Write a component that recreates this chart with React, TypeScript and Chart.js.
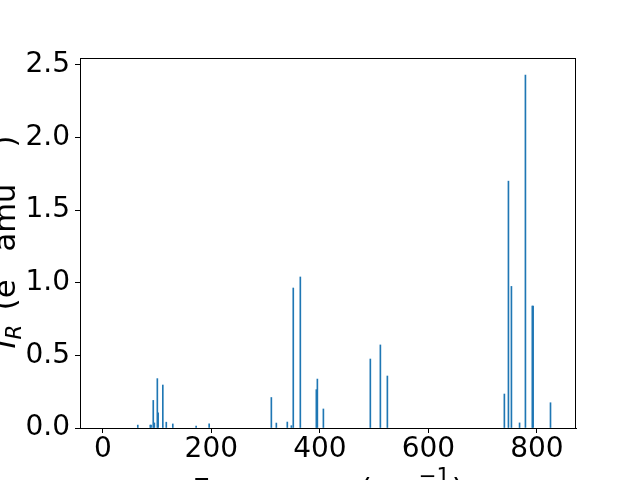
import React, { useEffect, useRef } from "react";
import { Chart, registerables } from "chart.js";

Chart.register(...registerables);

// Frequencies (cm^-1) and IR intensities
const frequencies = [
  64.5, 87.5, 89, 93, 95, 100.5, 102, 110.6, 117, 129, 172, 196,
  310.6, 319.8, 340, 347.5, 351, 364, 393.5, 395.4, 406.5,
  493, 511.5, 524.4,
  740, 747.5, 753, 768, 778.8, 791.5, 793, 825,
];
const intensities = [
  0.02, 0.02, 0.02, 0.19, 0.035, 0.34, 0.105, 0.296, 0.04, 0.028, 0.014, 0.028,
  0.21, 0.034, 0.041, 0.016, 0.964, 1.04, 0.264, 0.337, 0.131,
  0.475, 0.572, 0.358,
  0.234, 1.70, 0.975, 0.035, 2.43, 0.84, 0.84, 0.174,
];
const xTickValues = [0, 200, 400, 600, 800];
const yTickValues = [0, 0.5, 1.0, 1.5, 2.0, 2.5];

const FONT = "DejaVu Sans";

type Piece = { text: string; italic?: boolean; scale?: number; dy?: number; gap?: number };

function drawRich(ctx: CanvasRenderingContext2D, pieces: Piece[], size: number) {
  const fontFor = (p: Piece) =>
    `${p.italic ? "italic " : ""}${Math.round(size * (p.scale ?? 1) * 10) / 10}px "${FONT}"`;
  let total = 0;
  const widths = pieces.map((p) => {
    ctx.font = fontFor(p);
    const w = ctx.measureText(p.text).width + (p.gap ?? 0) * size;
    total += w;
    return w;
  });
  let x = -total / 2;
  pieces.forEach((p, i) => {
    ctx.font = fontFor(p);
    ctx.fillText(p.text, x, (p.dy ?? 0) * size);
    x += widths[i];
  });
}

const titlesPlugin = {
  id: "axisTitles",
  afterDraw(chart: any) {
    const ctx: CanvasRenderingContext2D = chart.ctx;
    const ca = chart.chartArea;
    const size = 30.6;
    ctx.save();
    ctx.fillStyle = "#000";
    ctx.textBaseline = "alphabetic";
    ctx.textAlign = "left";
    // x title
    ctx.save();
    ctx.translate((ca.left + ca.right) / 2, ca.bottom + 72);
    drawRich(
      ctx,
      [
        { text: "Frequency (cm" },
        { text: "\u22121", scale: 0.7, dy: -0.54, gap: 0.05 },
        { text: ")" },
      ],
      size
    );
    ctx.restore();
    // y title
    ctx.save();
    ctx.translate(ca.left - 65, (ca.top + ca.bottom) / 2 - 1);
    ctx.rotate(-Math.PI / 2);
    drawRich(
      ctx,
      [
        { text: "I", italic: true },
        { text: "R", italic: true, scale: 0.7, dy: 0.2, gap: 0.15 },
        { text: " (e" },
        { text: "2", scale: 0.7, dy: -0.54, gap: 0.15 },
        { text: " amu" },
        { text: "\u22121", scale: 0.7, dy: -0.54, gap: 0.15 },
        { text: ")" },
      ],
      size
    );
    ctx.restore();
    ctx.restore();
  },
};

export default function App() {
  const canvasRef = useRef<HTMLCanvasElement | null>(null);

  useEffect(() => {
    document.body.style.margin = "0";
    const canvas = canvasRef.current;
    if (!canvas) return;
    const data = frequencies.map((f, i) => ({ x: f, y: intensities[i] }));
    const chart = new Chart(canvas, {
      type: "bar",
      data: {
        datasets: [
          {
            data: data as any,
            backgroundColor: "#1f77b4",
            borderWidth: 0,
            barThickness: 1,
          } as any,
        ],
      },
      options: {
        animation: false,
        responsive: false,
        maintainAspectRatio: false,
        layout: { padding: { top: 58, right: 64, left: 0, bottom: 0 } },
        plugins: {
          legend: { display: false },
          tooltip: { enabled: false },
          title: { display: false },
        },
        scales: {
          x: {
            type: "linear",
            min: -42,
            max: 872,
            offset: false,
            afterBuildTicks: (s: any) => {
              s.ticks = xTickValues.map((v) => ({ value: v }));
            },
            afterFit: (s: any) => {
              s.height = 52;
            },
            grid: {
              offset: false,
              drawOnChartArea: false,
              drawTicks: true,
              tickLength: 5,
              color: "#000",
              lineWidth: 1,
            },
            border: { color: "#000", width: 1 },
            ticks: {
              color: "#000",
              font: { family: FONT, size: 28 },
              padding: 0,
              maxRotation: 0,
              autoSkip: false,
              callback: (v: any) => String(v),
            },
          },
          y: {
            type: "linear",
            min: 0,
            max: 2.548,
            afterBuildTicks: (s: any) => {
              s.ticks = yTickValues.map((v) => ({ value: v }));
            },
            afterFit: (s: any) => {
              s.width = 80;
            },
            grid: {
              drawOnChartArea: false,
              drawTicks: true,
              tickLength: 5,
              color: "#000",
              lineWidth: 1,
            },
            border: { color: "#000", width: 1 },
            ticks: {
              color: "#000",
              font: { family: FONT, size: 28 },
              padding: 5,
              autoSkip: false,
              callback: (v: any) => Number(v).toFixed(1),
            },
          },
        },
      } as any,
      plugins: [
        titlesPlugin,
        {
          id: "frame",
          afterDraw(chart: any) {
            const { ctx, chartArea: ca } = chart;
            ctx.save();
            ctx.strokeStyle = "#000";
            ctx.lineWidth = 1;
            ctx.beginPath();
            ctx.moveTo(ca.left, ca.top + 0.5);
            ctx.lineTo(ca.right, ca.top + 0.5);
            ctx.moveTo(ca.right - 0.5, ca.top);
            ctx.lineTo(ca.right - 0.5, ca.bottom);
            ctx.stroke();
            ctx.restore();
          },
        },
      ],
    });
    return () => chart.destroy();
  }, []);

  return (
    <div style={{ width: 640, height: 480, overflow: "hidden", background: "#fff" }}>
      <canvas ref={canvasRef} width={640} height={480} style={{ display: "block" }} />
    </div>
  );
}
